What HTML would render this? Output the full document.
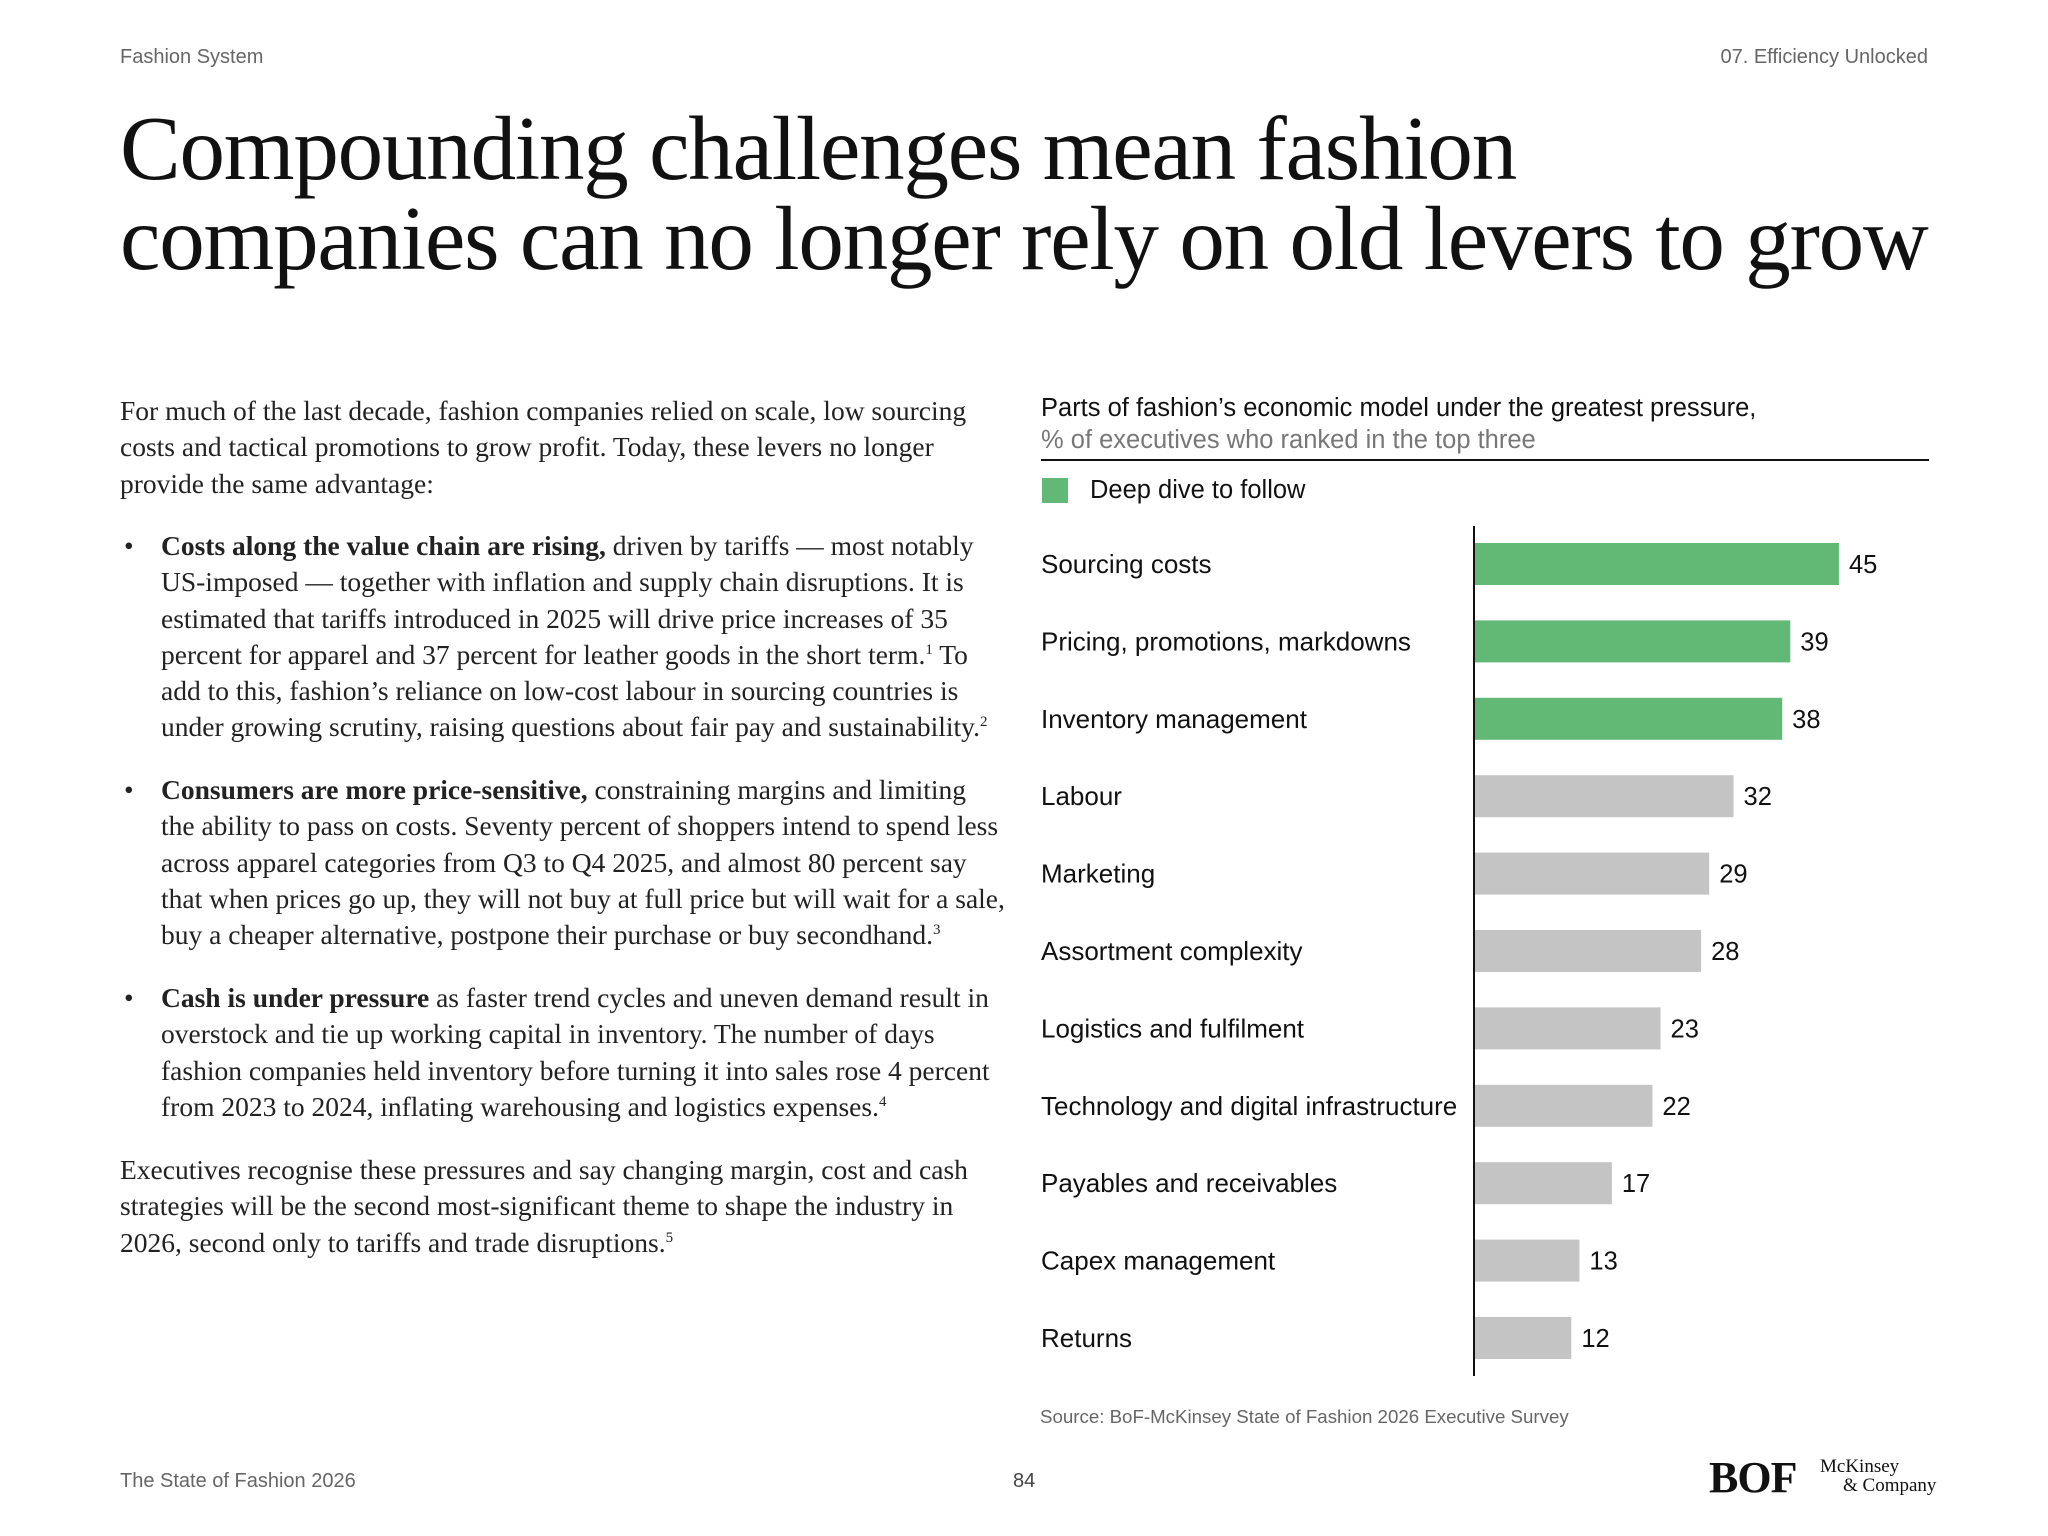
<!DOCTYPE html>
<html><head><meta charset="utf-8">
<style>
body{margin:0;width:2048px;height:1536px;background:#fff;position:relative;overflow:hidden;font-family:"Liberation Sans",sans-serif;color:#111}
.a{position:absolute}
.hdr{font-size:20px;color:#666}
.title{left:120px;top:104px;font-family:"Liberation Serif",serif;font-size:91px;line-height:90px;letter-spacing:-1.2px;color:#111;white-space:nowrap}
.body{font-family:"Liberation Serif",serif;font-size:27.5px;line-height:36.3px;color:#222;white-space:nowrap}
.body sup{font-size:15px;line-height:0;vertical-align:10px}
.bul{left:161px}
.dot{position:absolute;left:-37px}
</style></head><body>
<div class="a hdr" style="left:120px;top:46px">Fashion System</div>
<div class="a hdr" style="right:120px;top:46px">07. Efficiency Unlocked</div>
<div class="a title">Compounding challenges mean fashion<br>companies can no longer rely on old levers to grow</div>

<div class="a body" style="left:120px;top:393px">For much of the last decade, fashion companies relied on scale, low sourcing<br>costs and tactical promotions to grow profit. Today, these levers no longer<br>provide the same advantage:</div>
<div class="a body bul" style="top:528px"><span class="dot">•</span><b>Costs along the value chain are rising,</b> driven by tariffs — most notably<br>US-imposed — together with inflation and supply chain disruptions. It is<br>estimated that tariffs introduced in 2025 will drive price increases of 35<br>percent for apparel and 37 percent for leather goods in the short term.<sup>1</sup> To<br>add to this, fashion’s reliance on low-cost labour in sourcing countries is<br>under growing scrutiny, raising questions about fair pay and sustainability.<sup>2</sup></div>
<div class="a body bul" style="top:772px"><span class="dot">•</span><b>Consumers are more price-sensitive,</b> constraining margins and limiting<br>the ability to pass on costs. Seventy percent of shoppers intend to spend less<br>across apparel categories from Q3 to Q4 2025, and almost 80 percent say<br>that when prices go up, they will not buy at full price but will wait for a sale,<br>buy a cheaper alternative, postpone their purchase or buy secondhand.<sup>3</sup></div>
<div class="a body bul" style="top:980px"><span class="dot">•</span><b>Cash is under pressure</b> as faster trend cycles and uneven demand result in<br>overstock and tie up working capital in inventory. The number of days<br>fashion companies held inventory before turning it into sales rose 4 percent<br>from 2023 to 2024, inflating warehousing and logistics expenses.<sup>4</sup></div>
<div class="a body" style="left:120px;top:1152px">Executives recognise these pressures and say changing margin, cost and cash<br>strategies will be the second most-significant theme to shape the industry in<br>2026, second only to tariffs and trade disruptions.<sup>5</sup></div>

<div class="a" style="left:1041px;top:394px;font-size:25.5px;color:#111">Parts of fashion’s economic model under the greatest pressure,</div>
<div class="a" style="left:1041px;top:426px;font-size:25.5px;color:#777">% of executives who ranked in the top three</div>
<div class="a" style="left:1041px;top:459px;width:888px;height:2px;background:#111"></div>
<div class="a" style="left:1042px;top:478px;width:26px;height:25px;background:#62b875"></div>
<div class="a" style="left:1090px;top:476px;font-size:25.5px">Deep dive to follow</div>

<svg id="chart" class="a" style="left:0;top:0" width="2048" height="1536"></svg>

<div class="a" style="left:1040px;top:1406px;font-size:18.7px;color:#666">Source: BoF-McKinsey State of Fashion 2026 Executive Survey</div>
<div class="a hdr" style="left:120px;top:1470px">The State of Fashion 2026</div>
<div class="a hdr" style="left:1013px;top:1470px;color:#444">84</div>
<div class="a" style="left:1709px;top:1452px;font-family:'Liberation Serif',serif;font-size:44px;font-weight:bold;letter-spacing:-1px">BOF</div>
<div class="a" style="left:1820px;top:1457px;font-family:'Liberation Serif',serif;font-size:19px;line-height:19px">McKinsey<br><span style="padding-left:23px">&amp; Company</span></div>

<script>
const categories=["Sourcing costs","Pricing, promotions, markdowns","Inventory management","Labour","Marketing","Assortment complexity","Logistics and fulfilment","Technology and digital infrastructure","Payables and receivables","Capex management","Returns"];
const values=[45,39,38,32,29,28,23,22,17,13,12];
const highlighted=[true,true,true,false,false,false,false,false,false,false,false];
const svg=document.getElementById('chart');
const NS='http://www.w3.org/2000/svg';
const x0=1474, perUnit=8.11, y0=564, step=77.4, barH=42;
const xs=v=>x0+v*perUnit;
const ys=i=>y0+i*step;
categories.forEach((c,i)=>{
  const r=document.createElementNS(NS,'rect');
  r.setAttribute('x',x0);r.setAttribute('y',ys(i)-barH/2);
  r.setAttribute('width',xs(values[i])-x0);r.setAttribute('height',barH);
  r.setAttribute('fill',highlighted[i]?'#62b875':'#c4c4c4');
  
  
  svg.appendChild(r);
  const t=document.createElementNS(NS,'text');
  t.setAttribute('x',1041);t.setAttribute('y',ys(i)+9);
  t.setAttribute('font-size','26');t.setAttribute('fill','#111');
  t.textContent=c;
  
  
  svg.appendChild(t);
  const v=document.createElementNS(NS,'text');
  v.setAttribute('x',xs(values[i])+10);v.setAttribute('y',ys(i)+9);
  v.setAttribute('font-size','25.5');v.setAttribute('fill','#111');
  v.textContent=values[i];
  
  
  svg.appendChild(v);
});
const ax=document.createElementNS(NS,'line');
ax.setAttribute('x1',x0);ax.setAttribute('x2',x0);
ax.setAttribute('y1',526);ax.setAttribute('y2',1376);
ax.setAttribute('stroke','#111');ax.setAttribute('stroke-width','2');


svg.appendChild(ax);
</script>
</body></html>
